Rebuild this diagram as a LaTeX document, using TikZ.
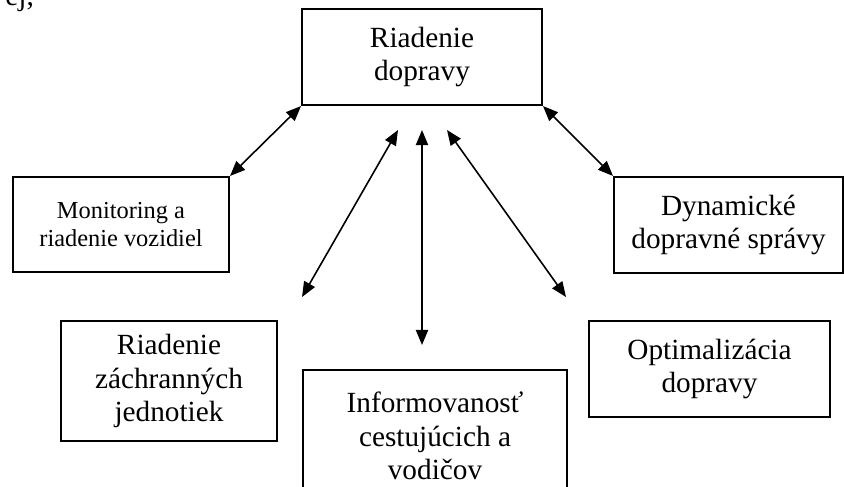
\documentclass[tikz,border=0pt]{standalone}
\usepackage{fontspec}
\setmainfont{Liberation Serif}
\usepackage{tikz}
\usetikzlibrary{arrows.meta, positioning}
\tikzset{
  blok/.style={draw, line width=0.8pt, align=center, inner sep=2pt,
    font=\fontsize{12}{13.8}\selectfont},
  malyblok/.style={blok, font=\fontsize{10}{11.5}\selectfont},
  spoj/.style={line width=0.65pt, {Triangle[length=6.2pt,width=5pt]}-{Triangle[length=6.2pt,width=5pt]}}
}

\begin{document}
\begin{tikzpicture}[x=0.41pt, y=-0.41pt]
\useasboundingbox (0,0) rectangle (844,486);

% zvysok textu nad obrazkom
\node [anchor=base west, inner sep=0pt, font=\fontsize{12}{13.8}\selectfont] (zvysok) at (5,5.5) {ej,};

\node [blok, minimum width=98.4pt, minimum height=39.4pt] (riad) at (422,57) {Riadenie\\dopravy};
\node [malyblok, minimum width=88.6pt, minimum height=39pt] (mon) at (121,224.5) {Monitoring a\\riadenie vozidiel};
\node [blok, minimum width=93.9pt, minimum height=39.4pt] (dyn) at (728.5,225) {Dynamické\\dopravné správy};
\node [blok, minimum width=88.6pt, minimum height=49.2pt] (zach) at (169,381) {Riadenie\\záchranných\\jednotiek};
\node [blok, minimum width=108.2pt, minimum height=54.1pt] (info) at (435,436) {Informovanosť\\cestujúcich a\\vodičov};
\node [blok, minimum width=98.8pt, minimum height=39.4pt] (opt) at (709.5,369) {Optimalizácia\\dopravy};

\coordinate (a1) at (398,130);
\coordinate (a2) at (302,297);
\coordinate (b1) at (422,130);
\coordinate (b2) at (422,345);
\coordinate (c1) at (447,130);
\coordinate (c2) at (566,297);

\draw [spoj] (riad.south west) -- (mon.north east);
\draw [spoj] (riad.south east) -- (dyn.north west);
\draw [spoj] (a1) -- (a2);
\draw [spoj] (b1) -- (b2);
\draw [spoj] (c1) -- (c2);
\end{tikzpicture}
\end{document}
